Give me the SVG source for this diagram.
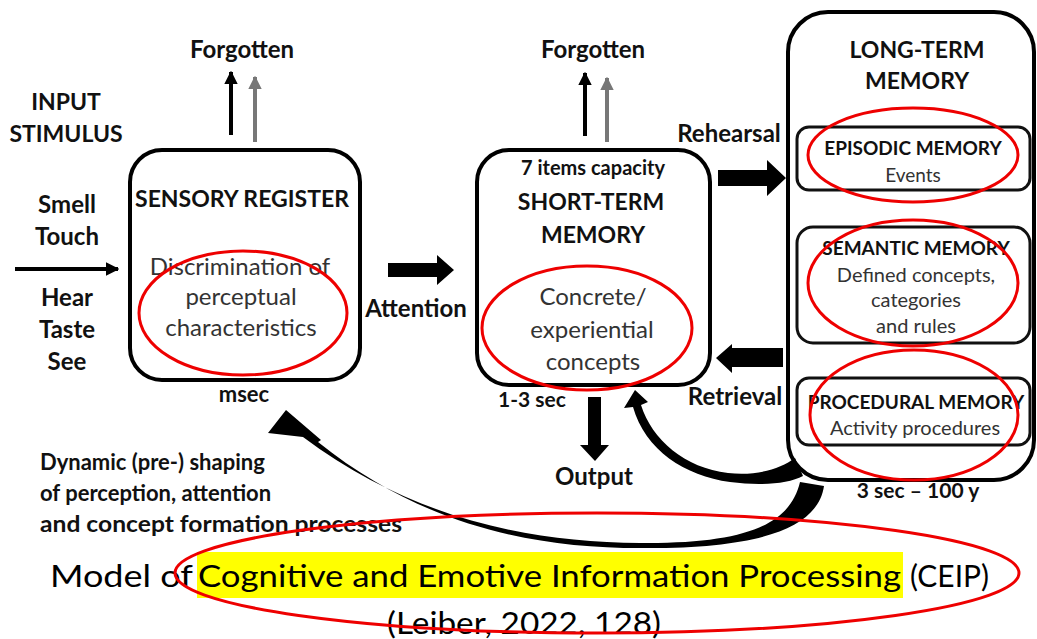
<svg xmlns="http://www.w3.org/2000/svg" width="1037" height="639" viewBox="0 0 1037 639">
<defs>
<style>
.b{font-family:Lato,"Liberation Sans",sans-serif;font-weight:bold;fill:#111;text-anchor:middle}
.r{font-family:Lato,"Liberation Sans",sans-serif;fill:#333;text-anchor:middle}
.box{fill:none;stroke:#000;stroke-width:4}
.ibox{fill:none;stroke:#111;stroke-width:3}
.red{fill:none;stroke:#e00;stroke-width:3}
.thin{stroke:#000;stroke-width:4;fill:none}
.gray{stroke:#777;stroke-width:4;fill:none}
.cap{font-family:Lato,"Liberation Sans",sans-serif;fill:#000;font-size:30px}
</style>
<marker id="ah" viewBox="0 0 10 10" refX="9" refY="5" markerWidth="3.4" markerHeight="3.8" orient="auto" markerUnits="strokeWidth"><path d="M0,0 L10,5 L0,10 Z" fill="#000"/></marker>
<marker id="ahg" viewBox="0 0 10 10" refX="9" refY="5" markerWidth="3.4" markerHeight="3.8" orient="auto" markerUnits="strokeWidth"><path d="M0,0 L10,5 L0,10 Z" fill="#777"/></marker>
</defs>
<rect width="1037" height="639" fill="#fff"/>

<g id="input">
<text class="b" font-size="23" x="66" y="110">INPUT</text>
<text class="b" font-size="23" x="66" y="142">STIMULUS</text>
<text class="b" font-size="24" x="67" y="213">Smell</text>
<text class="b" font-size="24" x="67" y="245">Touch</text>
<text class="b" font-size="24" x="67" y="306">Hear</text>
<text class="b" font-size="24" x="67" y="338">Taste</text>
<text class="b" font-size="24" x="67" y="370">See</text>
</g>

<g id="sensory">
<rect class="box" x="130" y="150" width="230" height="230" rx="32"/>
<text class="b" font-size="23" x="242" y="207">SENSORY REGISTER</text>
<text class="r" font-size="24" x="240" y="275">Discrimination of</text>
<text class="r" font-size="24" x="241" y="305">perceptual</text>
<text class="r" font-size="24" x="241" y="336">characteristics</text>
<ellipse class="red" cx="243" cy="313" rx="104" ry="62"/>
<text class="b" font-size="22" x="244" y="402">msec</text>
<text class="b" font-size="24" x="242" y="58">Forgotten</text>
</g>

<g id="stm">
<rect class="box" x="477" y="150" width="233" height="235" rx="32"/>
<text class="b" font-size="20" x="593" y="175">7 items capacity</text>
<text class="b" font-size="23" x="591" y="210">SHORT-TERM</text>
<text class="b" font-size="23" x="593" y="243">MEMORY</text>
<text class="r" font-size="24" x="593" y="305">Concrete/</text>
<text class="r" font-size="24" x="592" y="338">experiential</text>
<text class="r" font-size="24" x="593" y="370">concepts</text>
<ellipse class="red" cx="587" cy="328" rx="105" ry="62"/>
<text class="b" font-size="21" x="532" y="407">1-3 sec</text>
<text class="b" font-size="24" x="593" y="58">Forgotten</text>
<text class="b" font-size="24" x="594" y="485">Output</text>
</g>

<g id="ltm">
<rect class="box" x="788" y="12" width="246" height="468" rx="40"/>
<text class="b" font-size="23" x="917" y="58">LONG-TERM</text>
<text class="b" font-size="23" x="917" y="89">MEMORY</text>
<text class="b" font-size="21" x="918" y="498">3 sec – 100 y</text>
</g>
<g id="episodic">
<rect class="ibox" x="797" y="127" width="233" height="63" rx="12"/>
<text class="b" font-size="19" x="913" y="155">EPISODIC MEMORY</text>
<text class="r" font-size="19" x="913" y="182">Events</text>
<ellipse class="red" cx="913" cy="155" rx="105" ry="47"/>
</g>
<g id="semantic">
<rect class="ibox" x="797" y="227" width="233" height="116" rx="16"/>
<text class="b" font-size="19" x="916" y="255">SEMANTIC MEMORY</text>
<text class="r" font-size="20" x="916" y="282">Defined concepts,</text>
<text class="r" font-size="20" x="916" y="307">categories</text>
<text class="r" font-size="20" x="916" y="333">and rules</text>
<ellipse class="red" cx="913" cy="283" rx="105" ry="63"/>
</g>
<g id="procedural">
<rect class="ibox" x="797" y="378" width="233" height="67" rx="12"/>
<text class="b" font-size="19" x="916" y="409">PROCEDURAL MEMORY</text>
<text class="r" font-size="20" x="915" y="435">Activity procedures</text>
<ellipse class="red" cx="914" cy="415" rx="104" ry="65"/>
</g>

<g id="labels">
<text class="b" font-size="24" x="416" y="317">Attention</text>
<text class="b" font-size="24" x="729" y="142">Rehearsal</text>
<text class="b" font-size="24" x="735" y="405">Retrieval</text>
<text class="b" font-size="22" x="40" y="470" style="text-anchor:start">Dynamic (pre-) shaping</text>
<text class="b" font-size="22" x="40" y="501" style="text-anchor:start">of perception, attention</text>
<text class="b" font-size="22" x="40" y="532" style="text-anchor:start" textLength="362" lengthAdjust="spacingAndGlyphs">and concept formation processes</text>
</g>

<g id="connectors">
<line class="thin" x1="15" y1="269" x2="118" y2="269" marker-end="url(#ah)"/>
<line class="thin" x1="231" y1="135" x2="231" y2="72" marker-end="url(#ah)"/>
<line class="gray" x1="255" y1="142" x2="255" y2="77" marker-end="url(#ahg)"/>
<line class="thin" x1="585" y1="136" x2="585" y2="73" marker-end="url(#ah)"/>
<line class="gray" x1="607" y1="142" x2="607" y2="78" marker-end="url(#ahg)"/>
<path d="M388,263 H437 V255 L454,270 L437,285 V277 H388 Z" fill="#000"/>
<path d="M718,170 H767 V160 L786,178 L767,196 V186 H718 Z" fill="#000"/>
<path d="M783,348 H732 V344 L716,358 L732,373 V367 H783 Z" fill="#000"/>
<path d="M588,397 H601 V445 H609 L595,461 L580,445 H588 Z" fill="#000"/>
<path d="M824,486 C818,528 760,549 640,548 C530,548 420,524 318,442 L321,440 L286,410 L268,433 L303,437 C410,517 525,542 640,543 C745,544 790,525 800,482 Z" fill="#000"/>
<path d="M803,476 C788,484 760,486 730,482 C685,476 645,450 633,407 L624,408 L635,390 L648,402 L641,405 C652,440 685,468 728,473 C757,476 780,469 795,458 Z" fill="#000"/>
</g>

<g id="caption">
<rect x="197" y="552" width="706" height="46" fill="#ffff00"/>
<text class="cap" x="50" y="587" textLength="143" lengthAdjust="spacingAndGlyphs">Model of</text>
<text class="cap" x="198" y="587" textLength="703" lengthAdjust="spacingAndGlyphs">Cognitive and Emotive Information Processing</text>
<text class="cap" x="910" y="587" textLength="79" lengthAdjust="spacingAndGlyphs">(CEIP)</text>
<text class="cap" x="387" y="634" textLength="274" lengthAdjust="spacingAndGlyphs">(Leiber, 2022, 128)</text>
<ellipse class="red" cx="597" cy="573" rx="422" ry="60"/>
</g>
</svg>
